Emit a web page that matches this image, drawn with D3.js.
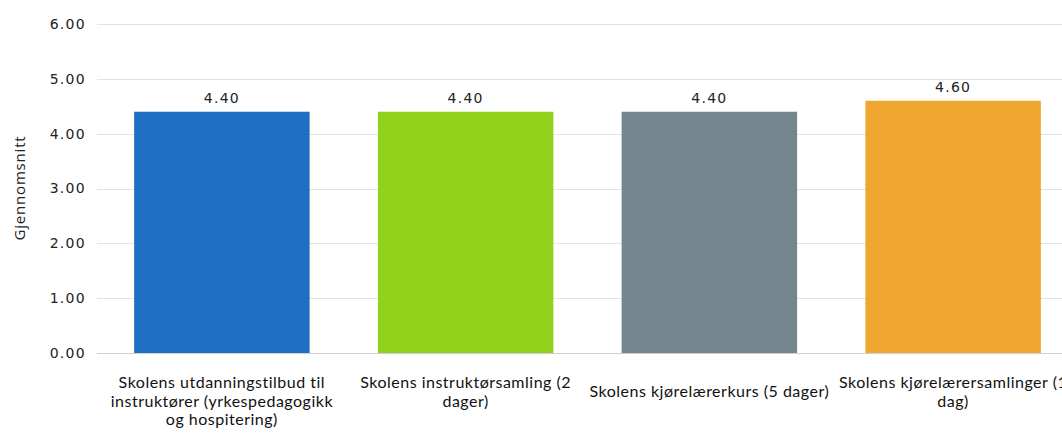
<!DOCTYPE html>
<html lang="no">
<head>
<meta charset="UTF-8">
<title>Gjennomsnitt</title>
<script src="https://cdn.jsdelivr.net/npm/d3@7/dist/d3.min.js"></script>
<style>
  body { margin: 0; background: #fff; }
  svg { display: block; }
</style>
</head>
<body>
<script>
// data
var categories = [
    "Skolens utdanningstilbud til\ninstruktører (yrkespedagogikk\nog hospitering)",
    "Skolens instruktørsamling (2\ndager)",
    "Skolens kjørelærerkurs (5 dager)",
    "Skolens kjørelærersamlinger (1\ndag)"
];
var values = [4.40, 4.40, 4.40, 4.60];
var colors = ["#1f70c4", "#93d21c", "#76868f", "#f0a731"];
var yTicks = [0, 1, 2, 3, 4, 5, 6];
var yTitle = "Gjennomsnitt";

var width = 1062, height = 434;
var svg = d3.select("body").append("svg")
    .attr("width", width)
    .attr("height", height);

// plot area (right side runs past the window, like the original)
var x = d3.scaleBand()
    .domain(d3.range(categories.length))
    .range([100, 1075])
    .paddingInner(0.28)
    .paddingOuter(0.14);

var y = d3.scaleLinear()
    .domain([0, 6])
    .range([353, 24]);

// grid
svg.append("g")
    .selectAll("line")
    .data(yTicks)
    .enter().append("line")
    .attr("x1", 97)
    .attr("x2", width)
    .attr("y1", function (d) { return Math.round(y(d)) + 0.5; })
    .attr("y2", function (d) { return Math.round(y(d)) + 0.5; })
    .attr("stroke", function (d) { return d === 0 ? "#cfcfcf" : "#e3e3e3"; })
    .attr("stroke-width", 1);

// y axis labels
var yAxis = d3.axisLeft(y)
    .tickValues(yTicks)
    .tickFormat(d3.format(".2f"))
    .tickSize(0)
    .tickPadding(0);

var ya = svg.append("g")
    .attr("transform", "translate(86,0)")
    .call(yAxis);
ya.select(".domain").remove();
ya.selectAll("text")
    .attr("font-family", "DejaVu Sans, sans-serif")
    .attr("font-size", 14)
    .attr("letter-spacing", "1.3px")
    .attr("fill", "#222");

// y title
svg.append("text")
    .attr("transform", "translate(25,188) rotate(-90)")
    .attr("text-anchor", "middle")
    .attr("font-family", "Open Sans, sans-serif")
    .attr("font-size", 15)
    .attr("letter-spacing", "0.8px")
    .attr("fill", "#222")
    .text(yTitle);

// bars
svg.append("g")
    .selectAll("rect")
    .data(values)
    .enter().append("rect")
    .attr("x", function (d, i) { return x(i); })
    .attr("y", function (d) { return y(d); })
    .attr("width", x.bandwidth())
    .attr("height", function (d) { return y(0) - y(d); })
    .attr("fill", function (d, i) { return colors[i]; });

// value labels
svg.append("g")
    .selectAll("text")
    .data(values)
    .enter().append("text")
    .attr("x", function (d, i) { return x(i) + x.bandwidth() / 2; })
    .attr("y", function (d) { return y(d) - 9; })
    .attr("text-anchor", "middle")
    .attr("font-family", "DejaVu Sans, sans-serif")
    .attr("font-size", 14)
    .attr("letter-spacing", "1.3px")
    .attr("fill", "#222")
    .text(function (d) { return d3.format(".2f")(d); });

// category labels
var cat = svg.append("g")
    .selectAll("text")
    .data(categories)
    .enter().append("text")
    .attr("text-anchor", "middle")
    .attr("font-family", "Lato, sans-serif")
    .attr("font-size", 16)
    .attr("letter-spacing", "0.5px")
    .attr("fill", "#111");

cat.each(function (d, i) {
    var lines = d.split("\n");
    var top = Math.max(388, 397 - (lines.length - 1) * 9);
    var cx = x(i) + x.bandwidth() / 2;
    d3.select(this).selectAll("tspan")
        .data(lines)
        .enter().append("tspan")
        .attr("x", cx)
        .attr("y", function (l, j) { return top + j * 18.5; })
        .text(function (l) { return l; });
});
</script>
</body>
</html>
